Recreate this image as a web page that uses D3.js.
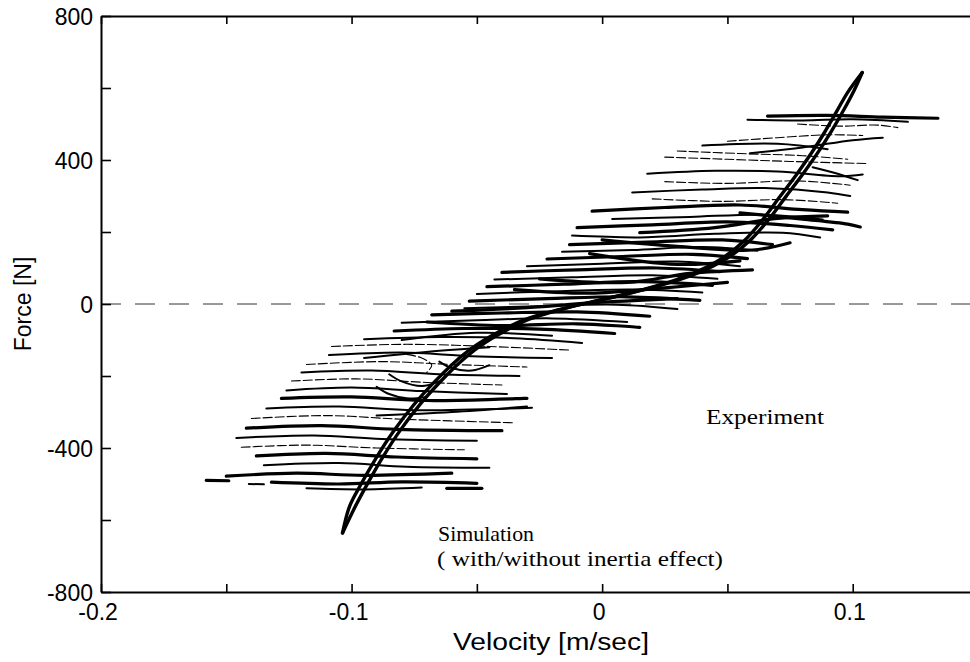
<!DOCTYPE html>
<html>
<head>
<meta charset="utf-8">
<script src="https://cdn.jsdelivr.net/npm/d3@7/dist/d3.min.js"></script>
<style>
  html, body { margin: 0; padding: 0; background: #fff; }
  svg { display: block; }
</style>
</head>
<body>
<svg id="chart" width="970" height="662"></svg>
<script>
// ---------------- DATA ----------------
const xTicks = [-0.2, -0.15, -0.1, -0.05, 0, 0.05, 0.1, 0.15];
const xTickLabels = {"-0.2": "-0.2", "-0.1": "-0.1", "0": "0", "0.1": "0.1"};
const yTicks = [-800, -600, -400, -200, 0, 200, 400, 600, 800];
const yTickLabels = {"-800": "-800", "-400": "-400", "0": "0", "400": "400", "800": "800"};

// Simulation: with inertia effect (left branch) and without (right branch)
const simWith = [
  [-0.1036,-636],[-0.1008,-562],[-0.0962,-500],[-0.0904,-430],[-0.0834,-355],
  [-0.0754,-282],[-0.0674,-220],[-0.0594,-165],[-0.0514,-120],[-0.0414,-78],
  [-0.0314,-45],[-0.0164,-14],[-0.0014,10],[0.0136,35],[0.0286,65],[0.0386,92],
  [0.0486,130],[0.0566,175],[0.0636,230],[0.0706,295],[0.0776,360],[0.0836,420],
  [0.0886,475],[0.0936,535],[0.0980,588],[0.1038,643]
];
const simWithout = [
  [-0.1036,-636],[-0.0982,-558],[-0.0934,-496],[-0.0876,-426],[-0.0806,-351],
  [-0.0726,-278],[-0.0646,-216],[-0.0566,-161],[-0.0486,-116],[-0.0386,-74],
  [-0.0286,-41],[-0.0136,-10],[0.0014,14],[0.0164,39],[0.0314,69],[0.0414,96],
  [0.0514,134],[0.0594,179],[0.0664,234],[0.0734,299],[0.0804,364],[0.0864,424],
  [0.0914,479],[0.0964,539],[0.1006,594],[0.1038,643]
];

// Experiment traces (velocity, force), grouped by how heavy they print
const expThick = [
  [[0.066,522],[0.090,524],[0.112,519],[0.134,516]],
  [[-0.004,258],[0.025,268],[0.055,275],[0.080,262],[0.098,255]],
  [[-0.010,212],[0.020,220],[0.050,228],[0.075,218],[0.092,206]],
  [[-0.013,165],[0.018,172],[0.048,178],[0.068,165]],
  [[-0.022,125],[0.008,132],[0.036,138],[0.058,126]],
  [[-0.040,88],[-0.010,95],[0.022,100],[0.047,90]],
  [[-0.046,48],[-0.015,55],[0.015,62],[0.044,52]],
  [[-0.053,8],[-0.022,15],[0.010,20],[0.039,10]],
  [[-0.068,-30],[-0.040,-25],[-0.010,-22],[0.019,-34]],
  [[-0.083,-75],[-0.055,-68],[-0.025,-70],[0.005,-82]],
  [[-0.060,-20],[-0.030,-10],[0.000,5],[0.030,15]],
  [[-0.035,40],[-0.005,30],[0.025,45],[0.050,60]],
  [[-0.025,70],[0.010,60],[0.035,85],[0.060,95]],
  [[-0.005,140],[0.030,110],[0.055,120]],
  [[0.000,178],[0.030,160],[0.060,150],[0.075,170]],
  [[0.015,198],[0.045,212],[0.070,238],[0.090,245]],
  [[0.055,253],[0.080,236],[0.098,222],[0.103,214]],
  [[-0.070,-50],[-0.040,-60],[-0.010,-55],[0.015,-65]],
  [[-0.128,-262],[-0.100,-258],[-0.070,-268],[-0.030,-262]],
  [[-0.142,-345],[-0.112,-338],[-0.082,-348],[-0.040,-352]],
  [[-0.138,-422],[-0.110,-415],[-0.082,-425],[-0.050,-430]],
  [[-0.150,-478],[-0.122,-470],[-0.095,-476],[-0.060,-470]],
  [[-0.132,-495],[-0.105,-500],[-0.080,-494],[-0.050,-498]],
  [[-0.158,-490],[-0.149,-491]],
  [[-0.062,-512],[-0.048,-512]]
];
const expMedium = [
  [[0.058,512],[0.080,510],[0.100,513],[0.122,506]],
  [[0.059,419],[0.080,435],[0.100,455],[0.112,462]],
  [[0.084,380],[0.094,362],[0.102,344]],
  [[0.040,440],[0.070,445],[0.090,430]],
  [[0.018,362],[0.045,370],[0.070,368],[0.095,355],[0.104,360]],
  [[0.012,310],[0.040,318],[0.065,322],[0.090,310],[0.099,300]],
  [[0.004,236],[0.035,242],[0.065,248],[0.088,235]],
  [[-0.012,190],[0.015,185],[0.045,195],[0.072,198],[0.087,185]],
  [[-0.016,145],[0.012,150],[0.040,158],[0.062,148]],
  [[-0.030,105],[0.000,112],[0.030,118],[0.055,105]],
  [[-0.043,68],[-0.012,74],[0.020,80],[0.046,70]],
  [[-0.050,28],[-0.020,35],[0.012,40],[0.040,32]],
  [[-0.055,-12],[-0.025,-6],[0.006,-2],[0.030,-14]],
  [[-0.080,-52],[-0.050,-45],[-0.020,-40],[0.010,-50]],
  [[-0.080,-100],[-0.050,-80],[-0.020,-88]],
  [[-0.095,-150],[-0.065,-130],[-0.045,-120]],
  [[-0.095,-98],[-0.065,-92],[-0.035,-95],[-0.008,-108]],
  [[-0.109,-142],[-0.080,-135],[-0.052,-145],[-0.020,-150]],
  [[-0.120,-190],[-0.092,-185],[-0.065,-195],[-0.033,-200]],
  [[-0.126,-240],[-0.100,-232],[-0.072,-242],[-0.038,-250]],
  [[-0.134,-290],[-0.105,-285],[-0.075,-295],[-0.028,-288]],
  [[-0.090,-310],[-0.060,-300],[-0.030,-285]],
  [[-0.146,-372],[-0.115,-365],[-0.088,-375],[-0.050,-380]],
  [[-0.135,-448],[-0.105,-442],[-0.078,-452],[-0.045,-455]],
  [[-0.118,-512],[-0.095,-515],[-0.072,-510]],
  [[-0.141,-500],[-0.135,-501]],
  [[-0.085,-195],[-0.080,-215],[-0.072,-228],[-0.065,-215]],
  [[-0.090,-230],[-0.085,-250],[-0.078,-262],[-0.070,-258]],
  [[-0.065,-160],[-0.060,-178],[-0.052,-185],[-0.045,-170]]
];
const expThin = [
  [[0.078,500],[0.095,494],[0.110,497],[0.118,490]],
  [[0.050,452],[0.070,462],[0.090,470],[0.104,468]],
  [[0.030,425],[0.055,418],[0.080,412],[0.098,402]],
  [[0.025,408],[0.050,402],[0.075,396],[0.106,390]],
  [[0.025,340],[0.050,335],[0.078,342],[0.099,330]],
  [[0.020,292],[0.048,285],[0.072,290],[0.094,280]],
  [[-0.108,-118],[-0.078,-112],[-0.045,-118],[-0.013,-128]],
  [[-0.118,-168],[-0.088,-160],[-0.060,-168],[-0.030,-175]],
  [[-0.124,-214],[-0.098,-208],[-0.070,-218],[-0.040,-225]],
  [[-0.140,-318],[-0.110,-310],[-0.080,-320],[-0.035,-330]],
  [[-0.144,-398],[-0.118,-392],[-0.090,-400],[-0.055,-405]],
  [[-0.078,-140],[-0.072,-150],[-0.068,-170],[-0.070,-190]]
];

const xTitle = "Velocity [m/sec]";
const yTitle = "Force [N]";
const expLabel = "Experiment";
const simLabel1 = "Simulation";
const simLabel2 = "( with/without inertia effect)";

// ---------------- DRAW ----------------
const svg = d3.select("#chart");
const L = 101, R = 978, T = 16, B = 592;
const x = d3.scaleLinear().domain([-0.2, 0.15]).range([L, R]);
const y = d3.scaleLinear().domain([-800, 800]).range([B, T]);

const axisFont = "'Liberation Sans', Arial, sans-serif";
const serifFont = "'Liberation Serif', 'Times New Roman', serif";

// zero dashed line
svg.append("line")
  .attr("x1", x(-0.2)).attr("x2", x(0.15))
  .attr("y1", y(0)).attr("y2", y(0))
  .attr("stroke", "#333").attr("stroke-width", 1)
  .attr("stroke-dasharray", "20,14");

const line = d3.line().x(d => x(d[0])).y(d => y(d[1])).curve(d3.curveCatmullRom.alpha(0.5));
const gExp = svg.append("g").attr("fill", "none").attr("stroke", "#000")
  .attr("stroke-linecap", "round").attr("stroke-linejoin", "round");
gExp.selectAll("path.thin").data(expThin).join("path").attr("class", "thin")
  .attr("d", line).attr("stroke-width", 1.1).attr("stroke-dasharray", "9,3");
gExp.selectAll("path.med").data(expMedium).join("path").attr("class", "med")
  .attr("d", line).attr("stroke-width", 2);
gExp.selectAll("path.thick").data(expThick).join("path").attr("class", "thick")
  .attr("d", line).attr("stroke-width", 3.2);

const gSim = svg.append("g").attr("fill", "none").attr("stroke", "#000")
  .attr("stroke-linecap", "round").attr("stroke-linejoin", "round");
gSim.append("path").attr("d", line(simWith)).attr("stroke-width", 3.4);
gSim.append("path").attr("d", line(simWithout)).attr("stroke-width", 3.4);

// axes
function styleAxis(g) {
  g.select(".domain").attr("stroke", "#000").attr("stroke-width", 2);
  g.selectAll(".tick line").attr("stroke", "#000").attr("stroke-width", 1.6);
  g.selectAll(".tick text").attr("font-family", axisFont).attr("font-size", 23).attr("fill", "#000");
}
const gx = svg.append("g").attr("transform", `translate(0,${B})`)
  .call(d3.axisBottom(x).tickValues(xTicks).tickSizeInner(-8).tickSizeOuter(0).tickPadding(12)
    .tickFormat(d => xTickLabels[String(+d.toFixed(2))] || ""));
styleAxis(gx);
gx.selectAll(".tick text").attr("dx", "-0.15em");
const gxt = svg.append("g").attr("transform", `translate(0,${T})`)
  .call(d3.axisTop(x).tickValues(xTicks).tickSizeInner(-8).tickSizeOuter(0).tickFormat(""));
styleAxis(gxt);
const gy = svg.append("g").attr("transform", `translate(${L},0)`)
  .call(d3.axisLeft(y).tickValues(yTicks).tickSizeInner(-10).tickSizeOuter(0).tickPadding(8)
    .tickFormat(d => yTickLabels[String(d)] || ""));
styleAxis(gy);
gy.selectAll(".tick text").attr("dy", "0.36em");

// titles
svg.append("text").attr("x", 551).attr("y", 650).attr("text-anchor", "middle")
  .attr("font-family", axisFont).attr("font-size", 23)
  .attr("textLength", 196).attr("lengthAdjust", "spacingAndGlyphs").text(xTitle);
svg.append("text").attr("transform", "translate(31,304) rotate(-90)").attr("text-anchor", "middle")
  .attr("font-family", axisFont).attr("font-size", 23).text(yTitle);

// annotations
svg.append("text").attr("x", 706).attr("y", 424).attr("font-family", serifFont).attr("font-size", 22)
  .attr("textLength", 118).attr("lengthAdjust", "spacingAndGlyphs").text(expLabel);
svg.append("text").attr("x", 438).attr("y", 541).attr("font-family", serifFont).attr("font-size", 22)
  .attr("textLength", 96).attr("lengthAdjust", "spacingAndGlyphs").text(simLabel1);
svg.append("text").attr("x", 437).attr("y", 566).attr("font-family", serifFont).attr("font-size", 22)
  .attr("textLength", 286).attr("lengthAdjust", "spacingAndGlyphs").text(simLabel2);
</script>
</body>
</html>
